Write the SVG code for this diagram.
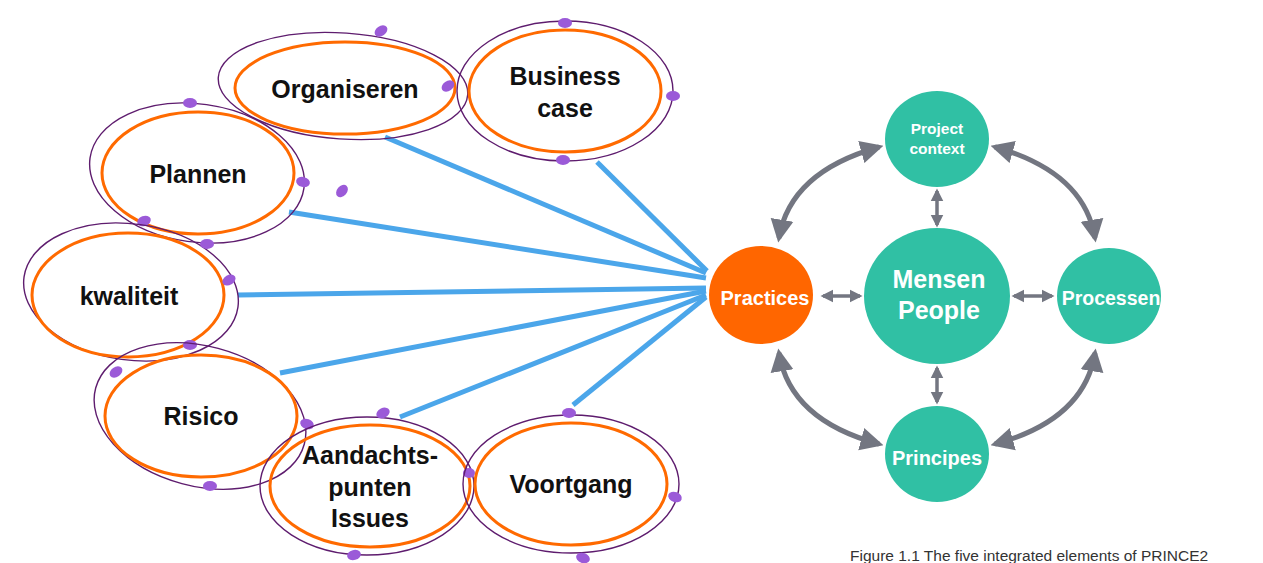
<svg xmlns="http://www.w3.org/2000/svg" width="1263" height="563" viewBox="0 0 1263 563">
<style>
.outer{fill:none;stroke:#5e1c6e;stroke-width:1.4}
.inner{fill:none;stroke:#ff6a00;stroke-width:3}
.dot{fill:#9b5ad8}
.lbl{font-family:"Liberation Sans",Arial,sans-serif;font-weight:bold;font-size:25px;fill:#111;text-anchor:middle}
.wl{font-family:"Liberation Sans",Arial,sans-serif;font-weight:bold;fill:#fff;text-anchor:middle}
.blue{stroke:#4ba6ea;stroke-width:5;fill:none}
.arc{stroke:#737681;stroke-width:5;fill:none;marker-start:url(#ah);marker-end:url(#ah)}
.sa{stroke:#737681;stroke-width:3.5;fill:none;marker-start:url(#ahs);marker-end:url(#ahs)}
.teal{fill:#30c0a4}
</style>
<defs>
<marker id="ah" viewBox="0 0 10 10" refX="8" refY="5" markerWidth="4.6" markerHeight="4.8" orient="auto-start-reverse" markerUnits="strokeWidth"><path d="M0,0 L10,5 L0,10 z" fill="#737681"/></marker>
<marker id="ahs" viewBox="0 0 10 10" refX="8" refY="5" markerWidth="3.6" markerHeight="3.8" orient="auto-start-reverse" markerUnits="strokeWidth"><path d="M0,0 L10,5 L0,10 z" fill="#737681"/></marker>
</defs>

<g id="connectors">
<line class="blue" x1="385" y1="137" x2="706" y2="273"/>
<line class="blue" x1="597" y1="162" x2="707" y2="271"/>
<line class="blue" x1="289" y1="212" x2="706" y2="278"/>
<line class="blue" x1="238" y1="295" x2="706" y2="288"/>
<line class="blue" x1="280" y1="373" x2="706" y2="291"/>
<line class="blue" x1="400" y1="417" x2="706" y2="295"/>
<line class="blue" x1="573" y1="405" x2="706" y2="297"/>
<path class="arc" d="M779,238 Q790,172 879,147"/>
<path class="arc" d="M1095,238 Q1084,172 995,147"/>
<path class="arc" d="M779,353 Q790,420 879,444"/>
<path class="arc" d="M1095,353 Q1084,420 995,444"/>
<line class="sa" x1="937" y1="191" x2="937" y2="225"/>
<line class="sa" x1="937" y1="368" x2="937" y2="402"/>
<line class="sa" x1="823" y1="296" x2="860" y2="296"/>
<line class="sa" x1="1014" y1="296" x2="1052" y2="296"/>
</g>

<g id="organiseren">
<ellipse class="outer" cx="343" cy="86" rx="125" ry="53" transform="rotate(4 343 86)"/>
<ellipse class="inner" cx="345" cy="88" rx="110" ry="46"/>
<text class="lbl" x="345" y="98">Organiseren</text>
<ellipse class="dot" cx="381" cy="31" rx="7" ry="5" transform="rotate(-35 381 31)"/>
<ellipse class="dot" cx="448" cy="86" rx="7" ry="5" transform="rotate(-35 448 86)"/>
</g>

<g id="business-case">
<ellipse class="outer" cx="565" cy="91" rx="108" ry="70"/>
<ellipse class="inner" cx="565" cy="91" rx="96" ry="61"/>
<text class="lbl" x="565" y="85">Business</text>
<text class="lbl" x="565" y="117">case</text>
<ellipse class="dot" cx="565" cy="23" rx="7" ry="5"/>
<ellipse class="dot" cx="673" cy="96" rx="7" ry="5"/>
<ellipse class="dot" cx="563" cy="160" rx="7" ry="5"/>
</g>

<g id="plannen">
<ellipse class="outer" cx="197" cy="173" rx="108" ry="69" transform="rotate(8 197 173)"/>
<ellipse class="inner" cx="198" cy="173" rx="96" ry="61"/>
<text class="lbl" x="198" y="183">Plannen</text>
<ellipse class="dot" cx="190" cy="103" rx="7" ry="5"/>
<ellipse class="dot" cx="303" cy="182" rx="7" ry="5" transform="rotate(15 303 182)"/>
<ellipse class="dot" cx="144" cy="221" rx="7" ry="5" transform="rotate(-20 144 221)"/>
<ellipse class="dot" cx="342" cy="191" rx="7" ry="5" transform="rotate(-50 342 191)"/>
</g>

<g id="kwaliteit">
<ellipse class="outer" cx="131" cy="292" rx="108" ry="68" transform="rotate(8 131 292)"/>
<ellipse class="inner" cx="128" cy="295" rx="96" ry="62"/>
<text class="lbl" x="129" y="305">kwaliteit</text>
<ellipse class="dot" cx="207" cy="244" rx="7" ry="5"/>
<ellipse class="dot" cx="229" cy="280" rx="7" ry="5" transform="rotate(-30 229 280)"/>
<ellipse class="dot" cx="190" cy="345" rx="7" ry="5"/>
</g>

<g id="risico">
<ellipse class="outer" cx="200" cy="416" rx="108" ry="70" transform="rotate(15 200 416)"/>
<ellipse class="inner" cx="201" cy="416" rx="96" ry="61"/>
<text class="lbl" x="201" y="425">Risico</text>
<ellipse class="dot" cx="116" cy="372" rx="7" ry="5" transform="rotate(-35 116 372)"/>
<ellipse class="dot" cx="307" cy="424" rx="7" ry="5" transform="rotate(20 307 424)"/>
<ellipse class="dot" cx="210" cy="486" rx="7" ry="5"/>
</g>

<g id="aandachtspunten">
<ellipse class="outer" cx="367" cy="486" rx="107" ry="69"/>
<ellipse class="inner" cx="370" cy="486" rx="100" ry="61"/>
<text class="lbl" x="370" y="464">Aandachts-</text>
<text class="lbl" x="370" y="496">punten</text>
<text class="lbl" x="370" y="527">Issues</text>
<ellipse class="dot" cx="383" cy="413" rx="7" ry="5" transform="rotate(-25 383 413)"/>
<ellipse class="dot" cx="354" cy="555" rx="7" ry="5" transform="rotate(-15 354 555)"/>
<ellipse class="dot" cx="469" cy="473" rx="6" ry="5"/>
</g>

<g id="voortgang">
<ellipse class="outer" cx="571" cy="484" rx="108" ry="69"/>
<ellipse class="inner" cx="571" cy="484" rx="96" ry="61"/>
<text class="lbl" x="571" y="493">Voortgang</text>
<ellipse class="dot" cx="569" cy="413" rx="7" ry="5"/>
<ellipse class="dot" cx="675" cy="497" rx="7" ry="5" transform="rotate(20 675 497)"/>
<ellipse class="dot" cx="583" cy="558" rx="7" ry="5" transform="rotate(20 583 558)"/>
</g>

<g id="practices">
<ellipse cx="761" cy="295" rx="52" ry="49" fill="#ff6600"/>
<text class="wl" x="765" y="305" font-size="20">Practices</text>
</g>

<g id="project-context">
<ellipse class="teal" cx="937" cy="139" rx="52" ry="48"/>
<text class="wl" x="937" y="134" font-size="15.5">Project</text>
<text class="wl" x="937" y="154" font-size="15.5">context</text>
</g>

<g id="mensen">
<ellipse class="teal" cx="937" cy="296" rx="73" ry="68"/>
<text class="wl" x="939" y="288" font-size="25">Mensen</text>
<text class="wl" x="939" y="319" font-size="25">People</text>
</g>

<g id="processen">
<ellipse class="teal" cx="1109" cy="296" rx="52" ry="48"/>
<text class="wl" x="1111" y="305" font-size="19.5">Processen</text>
</g>

<g id="principes">
<ellipse class="teal" cx="937" cy="454" rx="52" ry="48"/>
<text class="wl" x="937" y="465" font-size="20">Principes</text>
</g>

<text x="850" y="561" font-family="'Liberation Sans',Arial,sans-serif" font-size="15.5" fill="#333">Figure 1.1 The five integrated elements of PRINCE2</text>
</svg>
